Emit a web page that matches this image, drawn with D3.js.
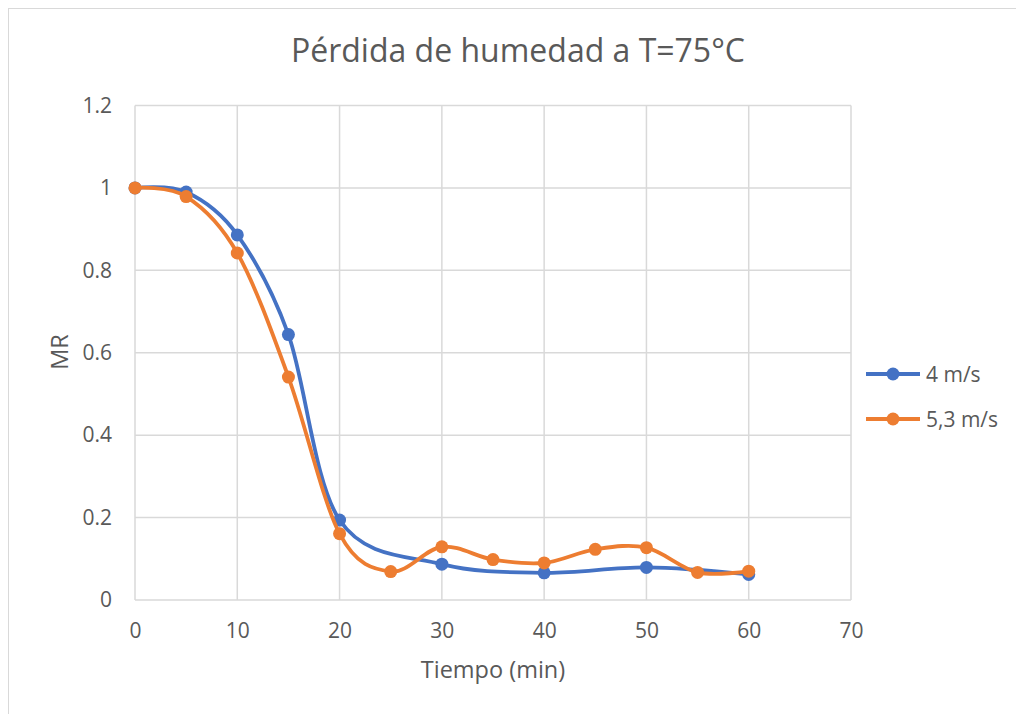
<!DOCTYPE html>
<html>
<head>
<meta charset="utf-8">
<script src="https://cdn.jsdelivr.net/npm/d3@7"></script>
<style>
  body { margin: 0; background: #fff; }
  text { font-family: "Open Sans", sans-serif; fill: #595959; }
</style>
</head>
<body>
<svg id="chart" width="1016" height="714"></svg>
<script>
// Data
const series_names = ["4 m/s", "5,3 m/s"];
const series_colors = ["#4472C4", "#ED7D31"];
const time_4 = [0, 5, 10, 15, 20, 30, 40, 50, 60];
const mr_4 = [1.0, 0.99, 0.886, 0.644, 0.194, 0.087, 0.066, 0.079, 0.062];
const time_53 = [0, 5, 10, 15, 20, 25, 30, 35, 40, 45, 50, 55, 60];
const mr_53 = [1.0, 0.979, 0.842, 0.541, 0.161, 0.069, 0.129, 0.098, 0.090, 0.123, 0.127, 0.067, 0.070];
const x_ticks = [0, 10, 20, 30, 40, 50, 60, 70];
const y_ticks = [0, 0.2, 0.4, 0.6, 0.8, 1, 1.2];

const svg = d3.select("#chart");

// Plot area
const plot_left = 135, plot_right = 851, plot_top = 105.5, plot_bottom = 600;

const x = d3.scaleLinear().domain([0, 70]).range([plot_left, plot_right]);
const y = d3.scaleLinear().domain([0, 1.2]).range([plot_bottom, plot_top]);

// Outer chart border
svg.append("rect")
    .attr("x", 8.5).attr("y", 8.5)
    .attr("width", 1030).attr("height", 730)
    .attr("fill", "none")
    .attr("stroke", "#D9D9D9")
    .attr("stroke-width", 1);

// Gridlines
const grid = svg.append("g");
grid.selectAll("line.v")
    .data(x_ticks)
    .enter().append("line")
    .attr("x1", d => x(d)).attr("x2", d => x(d))
    .attr("y1", plot_top).attr("y2", plot_bottom)
    .attr("stroke", "#D9D9D9").attr("stroke-width", 1.5);
grid.selectAll("line.h")
    .data(y_ticks)
    .enter().append("line")
    .attr("x1", plot_left).attr("x2", plot_right)
    .attr("y1", d => y(d)).attr("y2", d => y(d))
    .attr("stroke", "#D9D9D9").attr("stroke-width", 1.5);

// Axes (labels only, the gridlines act as the frame)
const xAxis = svg.append("g")
    .attr("transform", `translate(0,${plot_bottom})`)
    .call(d3.axisBottom(x).tickValues(x_ticks).tickSize(0).tickPadding(23).tickFormat(d3.format("d")));
const yAxis = svg.append("g")
    .attr("transform", `translate(${plot_left},0)`)
    .call(d3.axisLeft(y).tickValues(y_ticks).tickSize(0).tickPadding(23).tickFormat(d => String(d)));
[xAxis, yAxis].forEach(a => {
    a.select(".domain").remove();
    a.selectAll("text")
        .style("font-family", "'Open Sans', sans-serif")
        .style("font-size", "21px")
        .attr("fill", "#595959");
});

// Title and axis titles
svg.append("text")
    .attr("x", 518).attr("y", 62)
    .attr("text-anchor", "middle")
    .style("font-size", "32px")
    .text("Pérdida de humedad a T=75°C");
svg.append("text")
    .attr("x", 493).attr("y", 678)
    .attr("text-anchor", "middle")
    .style("font-size", "23.5px")
    .text("Tiempo (min)");
svg.append("text")
    .attr("transform", "translate(68,352) rotate(-90)")
    .attr("text-anchor", "middle")
    .style("font-size", "23.5px")
    .text("MR");

// Smoothed lines, close to Excel's smoothing
const line = d3.line()
    .x(d => x(d[0]))
    .y(d => y(d[1]))
    .curve(d3.curveCardinal.tension(0));

const series = [
    d3.zip(time_4, mr_4),
    d3.zip(time_53, mr_53)
];

series.forEach((pts, i) => {
    const g = svg.append("g");
    g.append("path")
        .datum(pts)
        .attr("d", line)
        .attr("fill", "none")
        .attr("stroke", series_colors[i])
        .attr("stroke-width", 3.8)
        .attr("stroke-linecap", "round");
    g.selectAll("circle")
        .data(pts)
        .enter().append("circle")
        .attr("cx", d => x(d[0]))
        .attr("cy", d => y(d[1]))
        .attr("r", 6.5)
        .attr("fill", series_colors[i]);
});

// Legend
const legend = svg.append("g");
series_names.forEach((name, i) => {
    const ly = 374 + i * 45;
    legend.append("line")
        .attr("x1", 866).attr("x2", 920)
        .attr("y1", ly).attr("y2", ly)
        .attr("stroke", series_colors[i])
        .attr("stroke-width", 3.8);
    legend.append("circle")
        .attr("cx", 893).attr("cy", ly)
        .attr("r", 6.5)
        .attr("fill", series_colors[i]);
    legend.append("text")
        .attr("x", 926).attr("y", ly + 7.5)
        .style("font-size", "21px")
        .text(name);
});
</script>
</body>
</html>
